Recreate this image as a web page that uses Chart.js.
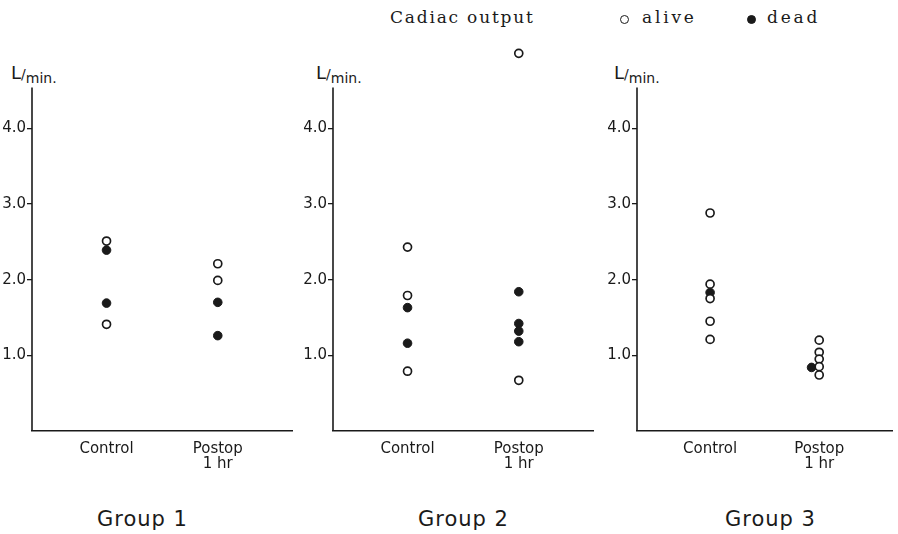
<html lang="en">
<head>
<meta charset="UTF-8">
<title>Cadiac output</title>
<script src="https://cdn.jsdelivr.net/npm/chart.js"></script>
<style>
  body { margin: 0; background: #fff; width: 898px; height: 534px; position: relative; overflow: hidden; font-family: "DejaVu Sans", sans-serif; color: #1a1a1a; }
  .panel { position: absolute; top: 0; }
  .head { position: absolute; top: 7px; font-family: "DejaVu Serif", serif; font-size: 17px; letter-spacing: 1.8px; }
  .dot { position: absolute; width: 7px; height: 7px; border-radius: 50%; border: 1.6px solid #1a1a1a; }
  .unit { position: absolute; top: 62px; font-size: 14px; }
  .unit b { font-weight: normal; font-size: 18px; }
  .unit i { font-style: normal; position: relative; top: 4px; }
  .group { position: absolute; top: 507px; font-size: 21px; letter-spacing: 1px; }
</style>
</head>
<body>
<div class="head" style="left:390px">Cadiac output</div>
<div class="dot" style="left:620px; top:15px; background:#fff"></div>
<div class="head" style="left:642px; letter-spacing:2.8px">alive</div>
<div class="dot" style="left:747px; top:15px; background:#1a1a1a"></div>
<div class="head" style="left:767px; letter-spacing:2.8px">dead</div>

<div class="unit" style="left:11px"><b>L</b>/<i>min.</i></div>
<div class="unit" style="left:316px"><b>L</b>/<i>min.</i></div>
<div class="unit" style="left:614px"><b>L</b>/<i>min.</i></div>

<div class="group" style="left:97px">Group 1</div>
<div class="group" style="left:418px">Group 2</div>
<div class="group" style="left:725px">Group 3</div>

<div class="panel" style="left:0px"><canvas id="g1" width="298" height="534"></canvas></div>
<div class="panel" style="left:300px"><canvas id="g2" width="299" height="534"></canvas></div>
<div class="panel" style="left:600px"><canvas id="g3" width="298" height="534"></canvas></div>

<script>
// x categories and y ticks
const categories = ['Control', ['Postop', '1 hr']];
const yTicks = [1, 2, 3, 4];

// cardiac output, L/min
const g1ControlAlive = [2.51, 1.41];
const g1ControlDead = [2.39, 1.69];
const g1PostopAlive = [2.21, 1.99];
const g1PostopDead = [1.70, 1.26];

const g2ControlAlive = [2.43, 1.79, 0.79];
const g2ControlDead = [1.63, 1.16];
const g2PostopAlive = [4.99, 0.67];
const g2PostopDead = [1.84, 1.42, 1.32, 1.18];

const g3ControlAlive = [2.88, 1.94, 1.75, 1.45, 1.21];
const g3ControlDead = [1.83];
const g3PostopAlive = [1.20, 1.04, 0.95, 0.85, 0.74];
const g3PostopDead = [0.84];

const ink = '#1a1a1a';
const axisTop = 4.54; // the drawn y axis stops here, the plot goes a bit higher

function pts(control, postop, shift) {
    // control sits at x=1, postop at x=2
    return control.map(v => ({ x: 1, y: v }))
        .concat(postop.map(v => ({ x: 2 + (shift || 0), y: v })));
}

// short y axis line, points above it still get drawn
const yLine = {
    id: 'yLine',
    beforeDatasetsDraw(chart) {
        const y = chart.scales.y, ctx = chart.ctx;
        const left = chart.chartArea.left;
        ctx.save();
        ctx.strokeStyle = ink;
        ctx.lineWidth = 1.6;
        ctx.beginPath();
        ctx.moveTo(left, y.getPixelForValue(axisTop));
        ctx.lineTo(left, y.getPixelForValue(0));
        ctx.stroke();
        ctx.restore();
    }
};

function drawGroup(id, alive, dead, axisWidth) {
    new Chart(document.getElementById(id), {
        type: 'scatter',
        data: {
            datasets: [
                { label: 'alive', data: alive, pointRadius: 4, pointBorderWidth: 1.7,
                  pointBackgroundColor: '#fff', pointBorderColor: ink },
                { label: 'dead', data: dead, pointRadius: 4.3, pointBorderWidth: 1,
                  pointBackgroundColor: ink, pointBorderColor: ink }
            ]
        },
        options: {
            responsive: false,
            animation: false,
            layout: { padding: { top: 45, right: 0, left: 0, bottom: 0 } },
            plugins: { legend: { display: false }, tooltip: { enabled: false } },
            scales: {
                x: {
                    type: 'linear', min: 0.33, max: 2.67,
                    afterBuildTicks: a => { a.ticks = [{ value: 1 }, { value: 2 }]; },
                    afterFit: a => { a.height = 103; },
                    grid: { display: false },
                    border: { color: ink, width: 1.6 },
                    ticks: { padding: 3, color: ink, font: { family: 'DejaVu Sans', size: 15, lineHeight: 1.0 },
                             callback: v => categories[v - 1] }
                },
                y: {
                    min: 0, max: 5.1,
                    afterBuildTicks: a => { a.ticks = yTicks.map(v => ({ value: v })); },
                    afterFit: a => { a.width = axisWidth; },
                    grid: { drawOnChartArea: false, drawTicks: true, tickLength: 5, color: ink, lineWidth: 1.3 },
                    border: { display: false },
                    ticks: { padding: 1, color: ink, font: { family: 'DejaVu Sans', size: 15 },
                             callback: v => v.toFixed(1) }
                }
            }
        },
        plugins: [yLine]
    });
}

drawGroup('g1', pts(g1ControlAlive, g1PostopAlive), pts(g1ControlDead, g1PostopDead), 32);
drawGroup('g2', pts(g2ControlAlive, g2PostopAlive), pts(g2ControlDead, g2PostopDead), 33);
// the dead point after surgery sits just left of the open ones
drawGroup('g3', pts(g3ControlAlive, g3PostopAlive), pts(g3ControlDead, g3PostopDead, -0.07), 37);
</script>
</body>
</html>
